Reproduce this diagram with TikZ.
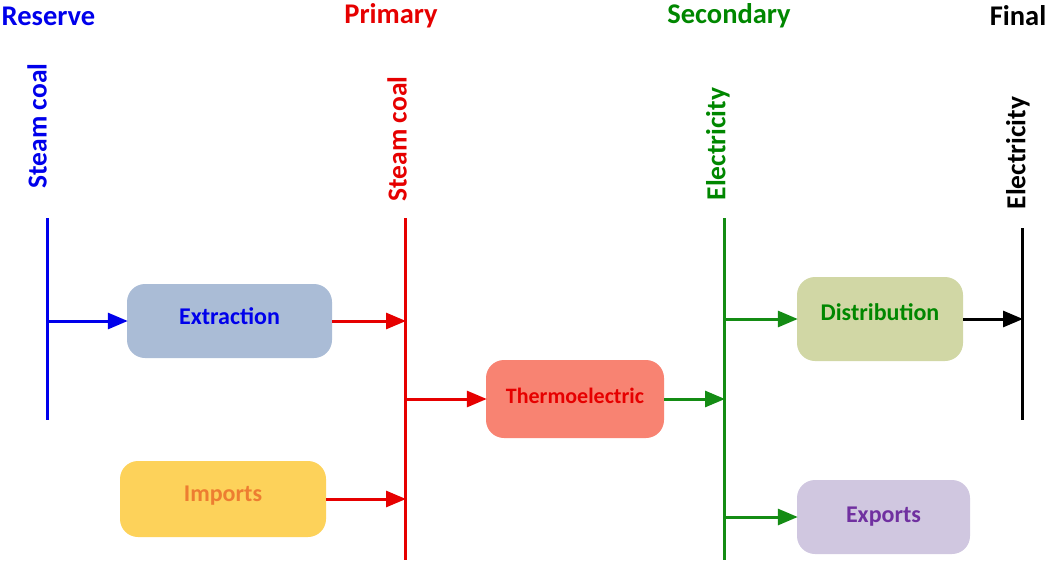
\documentclass[tikz,border=0pt]{standalone}
\usepackage{fontspec}
\setmainfont{Carlito}
\usetikzlibrary{arrows.meta}
\definecolor{cblue}{RGB}{0,0,235}
\definecolor{cred}{RGB}{230,0,0}
\definecolor{cgreen}{RGB}{0,135,0}
\definecolor{cgreenline}{RGB}{20,140,20}
\definecolor{fextr}{RGB}{170,188,214}
\definecolor{fimp}{RGB}{253,210,90}
\definecolor{timp}{RGB}{237,125,49}
\definecolor{fthermo}{RGB}{248,131,114}
\definecolor{fdist}{RGB}{209,215,165}
\definecolor{fexp}{RGB}{208,199,224}
\definecolor{texp}{RGB}{112,48,160}
\tikzset{
  hdr/.style={font=\bfseries\fontsize{28.5}{32}\selectfont, inner sep=0pt},
  vlab/.style={font=\bfseries\fontsize{27.5}{30}\selectfont, rotate=90, inner sep=0pt},
  proc/.style={rounded corners=18pt, font=\bfseries\fontsize{24}{27}\selectfont, inner sep=0pt},
  bar/.style={line width=3pt},
  flow/.style={line width=3pt, -{Triangle[length=20pt,width=16pt]}, shorten >=-1pt},
}
\begin{document}
\begin{tikzpicture}[x=1pt,y=-1pt]
\useasboundingbox (0,0) rectangle (1045,562);
% headers
\node[hdr, text=cblue] (hres) at (48.5,16) {Reserve};
\node[hdr, text=cred] (hpri) at (391,16) {Primary};
\node[hdr, text=cgreen] (hsec) at (729,16) {Secondary};
\node[hdr, text=black] (hfin) at (1018,16) {Final};
% vertical labels
\node[vlab, text=cblue] (l1) at (37,126) {Steam coal};
\node[vlab, text=cred] (l2) at (397,139) {Steam coal};
\node[vlab, text=cgreen] (l3) at (718,144) {Electricity};
\node[vlab, text=black] (l4) at (1018,153) {Electricity};
% bars
\coordinate (b1t) at (47,218); \coordinate (b1b) at (47,420);
\coordinate (b2t) at (405,218); \coordinate (b2b) at (405,560);
\coordinate (b3t) at (724,218); \coordinate (b3b) at (724,560);
\coordinate (b4t) at (1022,228); \coordinate (b4b) at (1022,420);
\draw[bar, cblue] (b1t) -- (b1b);
\draw[bar, cred] (b2t) -- (b2b);
\draw[bar, cgreenline] (b3t) -- (b3b);
\draw[bar, black] (b4t) -- (b4b);
% boxes
\node[proc, fill=fextr, text=cblue, text depth=10pt, minimum width=205pt, minimum height=74pt] (extr) at (229.5,321) {Extraction};
\node[proc, fill=fimp, text=timp, text depth=10pt, minimum width=206pt, minimum height=76pt] (imp) at (223,499) {Imports};
\node[proc, fill=fthermo, text=cred, text depth=6pt, minimum width=178pt, minimum height=78pt, font=\bfseries\fontsize{22}{25}\selectfont] (thermo) at (575,399) {Thermoelectric};
\node[proc, fill=fdist, text=cgreen, text depth=14pt, minimum width=166pt, minimum height=84pt] (dist) at (880,319) {Distribution};
\node[proc, fill=fexp, text=texp, minimum width=173pt, minimum height=74pt] (exp) at (883.5,517) {Exports};
% arrow anchors on bars
\coordinate (s1) at (47,321);
\coordinate (p1) at (405,321);
\coordinate (p2) at (405,499);
\coordinate (p3) at (405,399);
\coordinate (e1) at (724,399);
\coordinate (e2) at (724,319);
\coordinate (e3) at (724,517);
\coordinate (f1) at (1022,319);
% flows
\draw[flow, cblue] (s1) -- (extr.west);
\draw[flow, cred] (extr.east) -- (p1);
\draw[flow, cred] (imp.east) -- (p2);
\draw[flow, cred] (p3) -- (thermo.west);
\draw[flow, cgreenline] (thermo.east) -- (e1);
\draw[flow, cgreenline] (e2) -- (dist.west);
\draw[flow, cgreenline] (e3) -- (exp.west);
\draw[flow, black] (dist.east) -- (f1);
\end{tikzpicture}
\end{document}
